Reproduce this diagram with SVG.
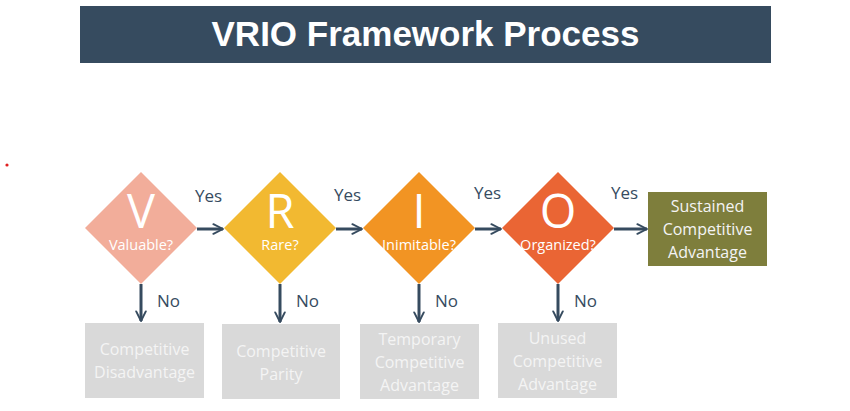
<svg xmlns="http://www.w3.org/2000/svg" width="850" height="411" viewBox="0 0 850 411">
<style>
.title{font-family:"Liberation Sans",Arial,sans-serif;font-weight:bold;font-size:35px;fill:#fff;text-anchor:middle}
.big{font-family:"Open Sans","Liberation Sans",sans-serif;font-size:47px;fill:#fff;text-anchor:middle}
.sub{font-family:"Open Sans","Liberation Sans",sans-serif;font-size:14.5px;fill:#fff;text-anchor:middle}
.lbl{font-family:"Open Sans","Liberation Sans",sans-serif;font-size:17px;fill:#364b5f}
.box{fill:#d9d9d9}
.btxt{font-family:"Open Sans","Liberation Sans",sans-serif;font-size:16px;fill:#f4f4f4;text-anchor:middle}
.gtxt{font-family:"Open Sans","Liberation Sans",sans-serif;font-size:16px;fill:#f4f4f4;text-anchor:middle}
.ln{stroke:#364b5f;stroke-width:3;fill:none}
</style>
<defs>
<marker id="ah" viewBox="0 0 10 10" refX="9" refY="5" markerWidth="4" markerHeight="4" orient="auto" markerUnits="strokeWidth">
<path d="M1,1 L9,5 L1,9" fill="none" stroke="#364b5f" stroke-width="1.6" stroke-linecap="round" stroke-linejoin="round"/>
</marker>
</defs>
<rect width="850" height="411" fill="#fff"/>
<circle cx="7" cy="165" r="1.6" fill="#e02020"/>
<g id="title">
<rect x="80" y="6" width="691" height="57" fill="#364b5f"/>
<text class="title" x="425.5" y="46">VRIO Framework Process</text>
</g>
<g id="node-v">
<polygon points="141,172 197,228 141,284 85,228" fill="#f2ad9a"/>
<text class="big" x="141" y="228">V</text>
<text class="sub" x="141" y="250">Valuable?</text>
</g>
<g id="node-r">
<polygon points="280,172 336,228 280,284 224,228" fill="#f2b931"/>
<text class="big" x="280" y="228">R</text>
<text class="sub" x="280" y="250">Rare?</text>
</g>
<g id="node-i">
<polygon points="419,172 475,228 419,284 363,228" fill="#f29423"/>
<text class="big" x="419" y="228">I</text>
<text class="sub" x="419" y="250">Inimitable?</text>
</g>
<g id="node-o">
<polygon points="558,172 614,228 558,284 502,228" fill="#ea6534"/>
<text class="big" x="558" y="228">O</text>
<text class="sub" x="558" y="250">Organized?</text>
</g>
<g id="node-sustained">
<rect x="648" y="192" width="119" height="74" fill="#7e7e3c"/>
<text class="gtxt" x="707.5" y="212">Sustained</text>
<text class="gtxt" x="707.5" y="235">Competitive</text>
<text class="gtxt" x="707.5" y="258">Advantage</text>
</g>
<g id="node-disadvantage">
<rect class="box" x="85" y="323" width="119" height="75"/>
<text class="btxt" x="144.5" y="355">Competitive</text>
<text class="btxt" x="144.5" y="378">Disadvantage</text>
</g>
<g id="node-parity">
<rect class="box" x="222" y="324" width="118" height="75"/>
<text class="btxt" x="281" y="357">Competitive</text>
<text class="btxt" x="281" y="380">Parity</text>
</g>
<g id="node-temporary">
<rect class="box" x="360" y="324" width="119" height="75"/>
<text class="btxt" x="419.5" y="345">Temporary</text>
<text class="btxt" x="419.5" y="368">Competitive</text>
<text class="btxt" x="419.5" y="391">Advantage</text>
</g>
<g id="node-unused">
<rect class="box" x="498" y="323" width="119" height="75"/>
<text class="btxt" x="557.5" y="344">Unused</text>
<text class="btxt" x="557.5" y="367">Competitive</text>
<text class="btxt" x="557.5" y="390">Advantage</text>
</g>
<g id="connectors">
<line class="ln" x1="197" y1="229" x2="223" y2="229" marker-end="url(#ah)"/>
<line class="ln" x1="336" y1="229" x2="362" y2="229" marker-end="url(#ah)"/>
<line class="ln" x1="475" y1="229" x2="501" y2="229" marker-end="url(#ah)"/>
<line class="ln" x1="614" y1="229" x2="647" y2="229" marker-end="url(#ah)"/>
<line class="ln" x1="141" y1="284" x2="141" y2="321" marker-end="url(#ah)"/>
<line class="ln" x1="280" y1="284" x2="280" y2="322" marker-end="url(#ah)"/>
<line class="ln" x1="419" y1="284" x2="419" y2="322" marker-end="url(#ah)"/>
<line class="ln" x1="558" y1="284" x2="558" y2="321" marker-end="url(#ah)"/>
<text class="lbl" x="195" y="202">Yes</text>
<text class="lbl" x="334" y="201">Yes</text>
<text class="lbl" x="474" y="199">Yes</text>
<text class="lbl" x="611" y="199">Yes</text>
<text class="lbl" x="157" y="307">No</text>
<text class="lbl" x="296" y="307">No</text>
<text class="lbl" x="435" y="307">No</text>
<text class="lbl" x="574" y="307">No</text>
</g>
</svg>
